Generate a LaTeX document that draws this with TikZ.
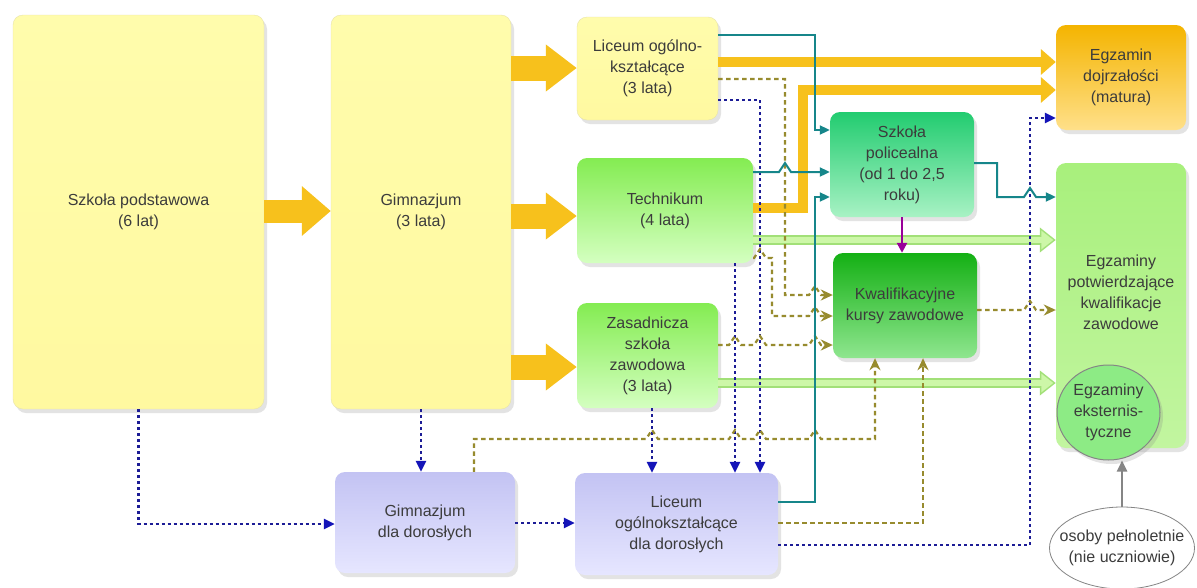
\documentclass[tikz,border=0pt]{standalone}
\usepackage{fontspec}
\setmainfont{Liberation Sans}
\usetikzlibrary{arrows.meta,shapes.geometric,shadows}
\definecolor{txt}{HTML}{3C3C3C}
\definecolor{gold}{HTML}{F7C11C}
\definecolor{lgfill}{HTML}{CDF7A8}
\definecolor{lgedge}{HTML}{A2E078}
\definecolor{tealc}{HTML}{16868A}
\definecolor{navy}{HTML}{1C1C96}
\definecolor{navytip}{HTML}{1414B8}
\definecolor{olivec}{HTML}{978B2E}
\definecolor{purp}{HTML}{990099}
\definecolor{grayc}{HTML}{858585}
\definecolor{yeltop}{HTML}{FFFCAC}
\definecolor{yelbot}{HTML}{FFF9A0}
\definecolor{yeledge}{HTML}{E8E4AA}
\definecolor{grtop}{HTML}{84EC52}
\definecolor{grmid}{HTML}{8CEE5C}
\definecolor{grbot}{HTML}{D4FFC0}
\definecolor{poltop}{HTML}{22CC70}
\definecolor{polmid}{HTML}{2AD078}
\definecolor{polbot}{HTML}{A8F2C4}
\definecolor{kkztop}{HTML}{14B014}
\definecolor{kkzmid}{HTML}{18B818}
\definecolor{kkzbot}{HTML}{8FE68F}
\definecolor{mattop}{HTML}{F4B400}
\definecolor{matmid}{HTML}{F6BA10}
\definecolor{matbot}{HTML}{FFE08A}
\definecolor{eptop}{HTML}{A8F07C}
\definecolor{epbot}{HTML}{C2F5A0}
\definecolor{lavtop}{HTML}{C3C3F3}
\definecolor{lavmid}{HTML}{C8C8F5}
\definecolor{lavbot}{HTML}{E6E6FF}
\definecolor{eksfill}{HTML}{8DEB85}
\tikzset{
  box/.style={rectangle, rounded corners=10pt, align=center, text=txt, inner sep=2pt,
    font=\fontsize{16}{21}\selectfont,
    drop shadow={shadow xshift=3pt, shadow yshift=-4pt, opacity=0.22}},
  yelbox/.style={box, top color=yeltop, bottom color=yelbot, draw=yeledge, line width=0.4pt},
  grbox/.style={box, top color=grtop, middle color=grmid, bottom color=grbot},
  polbox/.style={box, top color=poltop, middle color=polmid, bottom color=polbot},
  kkzbox/.style={box, top color=kkztop, middle color=kkzmid, bottom color=kkzbot},
  matbox/.style={box, top color=mattop, middle color=matmid, bottom color=matbot},
  epbox/.style={box, top color=eptop, bottom color=epbot},
  lavbox/.style={box, top color=lavtop, middle color=lavmid, bottom color=lavbot},
  fatarrow/.style={draw=gold, line width=#1, line join=miter},
  tl/.style={draw=tealc, line width=2pt, -{Triangle[length=10pt,width=9pt]}},
  bl/.style={draw=navy, line width=2.8pt, dash pattern=on 3pt off 3pt, -{Triangle[length=11pt,width=10pt,fill=navytip,color=navytip]}},
  ol/.style={draw=olivec, line width=2.2pt, dash pattern=on 4.5pt off 3.5pt, -{Stealth[length=12pt,width=11pt]}},
}
\begin{document}
\begin{tikzpicture}[x=1pt,y=-1pt]
\useasboundingbox (0,0) rectangle (1197,587);
\fill[white] (0,0) rectangle (1197,587);

% nodes
\node[yelbox, minimum width=251pt, minimum height=394pt] (sp) at (138.5,212) {Szkoła podstawowa\\(6 lat)};
\node[yelbox, minimum width=180pt, minimum height=394pt] (gim) at (421,212) {Gimnazjum\\(3 lata)};
\node[yelbox, minimum width=141pt, minimum height=103pt] (lic) at (647.5,68.5) {Liceum ogólno-\\kształcące\\(3 lata)};
\node[grbox, minimum width=176pt, minimum height=105pt] (tech) at (665,210.5) {Technikum\\(4 lata)};
\node[grbox, minimum width=141pt, minimum height=105pt] (zsz) at (647.5,355.5) {Zasadnicza\\szkoła\\zawodowa\\(3 lata)};
\node[polbox, minimum width=144pt, minimum height=105pt] (pol) at (902,164.5) {Szkoła\\policealna\\(od 1 do 2,5\\roku)};
\node[kkzbox, minimum width=144pt, minimum height=105pt] (kkz) at (905,305.5) {Kwalifikacyjne\\kursy zawodowe};
\node[matbox, minimum width=130pt, minimum height=105pt] (matura) at (1121,77.5) {Egzamin\\dojrzałości\\(matura)};
\node[epbox, minimum width=130pt, minimum height=285pt] (egzpot) at (1121,305.5) {Egzaminy\\potwierdzające\\kwalifikacje\\zawodowe\\[6pt]\mbox{}};
\node[ellipse, minimum width=103pt, minimum height=95pt, inner sep=0pt, fill=eksfill, draw=grayc, line width=1pt, text=txt, font=\fontsize{16}{21}\selectfont, drop shadow={shadow xshift=3pt, shadow yshift=-4pt, opacity=0.22}] (eks) at (1108.5,412.5) {\makebox[0pt]{\begin{tabular}{@{}c@{}}Egzaminy\\eksternis-\\tyczne\end{tabular}}};
\node[ellipse, minimum width=145pt, minimum height=82pt, inner sep=0pt, fill=white, draw=grayc, line width=0.8pt, text=txt, font=\fontsize{16}{21}\selectfont] (osoby) at (1122,548) {\makebox[0pt]{\begin{tabular}{@{}c@{}}osoby pełnoletnie\\(nie uczniowie)\end{tabular}}};
\node[lavbox, minimum width=180pt, minimum height=101pt] (gdd) at (425,522.5) {Gimnazjum\\dla dorosłych};
\node[lavbox, minimum width=203pt, minimum height=102pt] (ldd) at (676.5,524) {Liceum\\ogólnokształcące\\dla dorosłych};

% fat yellow arrows
\draw[fatarrow=23pt, -{Triangle[length=29pt,width=48pt]}] (sp.east |- 0,211) -- (gim.west |- 0,211);
\draw[fatarrow=25pt, -{Triangle[length=31pt,width=45pt]}] (gim.east |- 0,68) -- (lic.west |- 0,68);
\draw[fatarrow=25pt, -{Triangle[length=31pt,width=45pt]}] (gim.east |- 0,216) -- (tech.west |- 0,216);
\draw[fatarrow=25pt, -{Triangle[length=31pt,width=45pt]}] (gim.east |- 0,367) -- (zsz.west |- 0,367);
\draw[fatarrow=10pt, -{Triangle[length=15pt,width=25pt]}] (lic.east |- 0,62) -- (matura.west |- 0,62);
\draw[fatarrow=10pt, -{Triangle[length=15pt,width=25pt]}] (tech.east |- 0,208) -- (803,208) -- (803,90) -- (matura.west |- 0,90);

% light green arrows
\draw[draw=lgedge, line width=10pt, -{Triangle[length=16pt,width=24pt]}] (tech.east |- 0,240) -- (egzpot.west |- 0,240);
\draw[draw=lgfill, line width=6pt, shorten >=2.5pt, -{Triangle[length=12pt,width=18pt]}] (tech.east |- 0,240) -- (egzpot.west |- 0,240);
\draw[draw=lgedge, line width=10pt, -{Triangle[length=16pt,width=24pt]}] (zsz.east |- 0,383) -- (egzpot.west |- 0,383);
\draw[draw=lgfill, line width=6pt, shorten >=2.5pt, -{Triangle[length=12pt,width=18pt]}] (zsz.east |- 0,383) -- (egzpot.west |- 0,383);

% navy dotted
\draw[bl] (sp.south) -- (sp.south |- 0,524) -- (gdd.west |- 0,524);
\draw[bl] (gim.south) -- (gim.south |- gdd.north);
\draw[bl] (gdd.east |- 0,523) -- (ldd.west |- 0,523);
\draw[bl] (zsz.south -| 652,0) -- (ldd.north -| 652,0);
\draw[bl] (tech.south -| 735,0) -- (ldd.north -| 735,0);
\draw[bl] (lic.east |- 0,100) -- (760,100) -- (ldd.north -| 760,0);
\draw[bl] (ldd.east |- 0,545) -- (1030,545) -- (1030,118) -- (matura.west |- 0,118);

% olive dashed
\draw[ol] (lic.east |- 0,79) -- (785,79) -- (785,295) -- (809,295) -- (815,286) -- (821,295) -- (kkz.west |- 0,295);
\draw[ol] (tech.east |- 0,258) -- (754,258) -- (760,249) -- (766,258) -- (772,258) -- (772,316) -- (809,316) -- (815,307) -- (821,316) -- (kkz.west |- 0,316);
\draw[ol] (zsz.east |- 0,345) -- (729,345) -- (735,336) -- (741,345) -- (754,345) -- (760,336) -- (766,345) -- (809,345) -- (815,336) -- (821,345) -- (kkz.west |- 0,345);
\draw[ol] (kkz.east |- 0,310) -- (1024,310) -- (1030,301) -- (1036,310) -- (egzpot.west |- 0,310);
\draw[ol] (gdd.north -| 474,0) -- (474,439) -- (646,439) -- (652,430) -- (658,439) -- (729,439) -- (735,430) -- (741,439) -- (754,439) -- (760,430) -- (766,439) -- (809,439) -- (815,430) -- (821,439) -- (875,439) -- (kkz.south -| 875,0);
\draw[ol] (ldd.east |- 0,523) -- (923,523) -- (kkz.south -| 923,0);

% teal
\draw[tl] (lic.east |- 0,35) -- (815,35) -- (815,130) -- (pol.west |- 0,130);
\draw[tl] (tech.east |- 0,172) -- (779,172) -- (785,163) -- (791,172) -- (pol.west |- 0,172);
\draw[tl] (ldd.east |- 0,502) -- (815,502) -- (815,197) -- (pol.west |- 0,197);
\draw[tl] (pol.east |- 0,163) -- (997,163) -- (997,197) -- (1024,197) -- (1030,188) -- (1036,197) -- (egzpot.west |- 0,197);

% purple
\draw[draw=purp, line width=2.4pt, -{Triangle[length=10pt,width=10pt]}] (pol.south) -- (pol.south |- kkz.north);

% gray
\draw[draw=grayc, line width=2.4pt, -{Triangle[length=11pt,width=10pt]}] (osoby.north) -- (osoby.north |- eks.south);
\end{tikzpicture}
\end{document}
